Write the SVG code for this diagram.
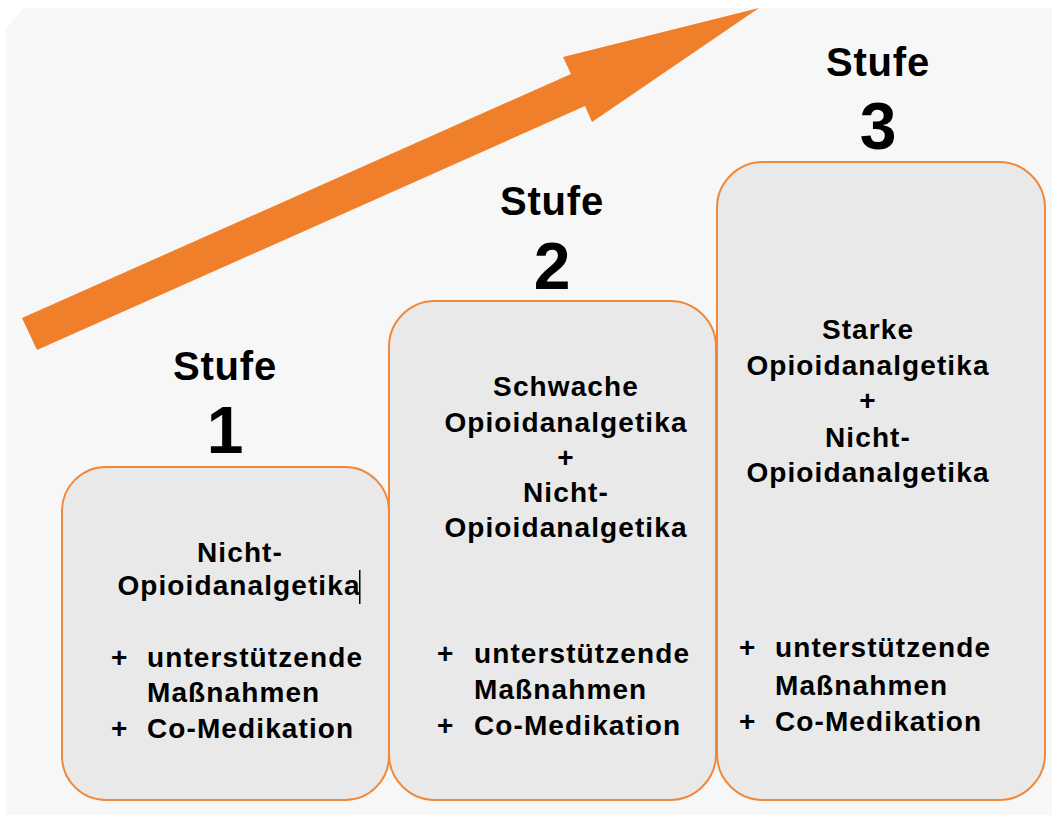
<svg xmlns="http://www.w3.org/2000/svg" width="1056" height="821" viewBox="0 0 1056 821">
<style>
.box{fill:#e9e9e9;stroke:#f0883a;stroke-width:2}
.t{font-family:"Liberation Sans",Arial,sans-serif;font-weight:bold;fill:#000}
.stufe{font-size:40px;text-anchor:middle;letter-spacing:0.8px}
.num{font-size:66px;text-anchor:middle}
.c{font-size:28px;text-anchor:middle;letter-spacing:1.1px}
.l{font-size:28px;letter-spacing:1.1px}
</style>
<rect width="1056" height="821" fill="#ffffff"/>
<path d="M24 8 H1052 V815 H6 V28 Z" fill="#f7f7f7"/>
<g id="arrow">
<polygon points="22,318 571,74 563,57 759,8 592,122 585,106 37,350" fill="#ef7f2a"/>
</g>
<g id="stufe1">
<rect class="box" x="62" y="467" width="327" height="333" rx="44" ry="44"/>
<text class="t stufe" x="225" y="380">Stufe</text>
<text class="t num" x="225" y="453">1</text>
<text class="t c" x="240" y="562">Nicht-</text>
<text class="t c" x="239" y="595">Opioidanalgetika</text>
<rect x="359" y="570" width="1.5" height="34" fill="#000"/>
<text class="t l" x="111" y="667">+</text>
<text class="t l" x="147" y="667">unterstützende</text>
<text class="t l" x="147" y="702">Maßnahmen</text>
<text class="t l" x="111" y="738">+</text>
<text class="t l" x="147" y="738">Co-Medikation</text>
</g>
<g id="stufe2">
<rect class="box" x="389" y="301" width="327" height="499" rx="46" ry="46"/>
<text class="t stufe" x="552" y="215">Stufe</text>
<text class="t num" x="552" y="289">2</text>
<text class="t c" x="566" y="396">Schwache</text>
<text class="t c" x="566" y="432">Opioidanalgetika</text>
<text class="t c" x="566" y="467">+</text>
<text class="t c" x="566" y="502">Nicht-</text>
<text class="t c" x="566" y="537">Opioidanalgetika</text>
<text class="t l" x="437" y="663">+</text>
<text class="t l" x="474" y="663">unterstützende</text>
<text class="t l" x="474" y="699">Maßnahmen</text>
<text class="t l" x="437" y="735">+</text>
<text class="t l" x="474" y="735">Co-Medikation</text>
</g>
<g id="stufe3">
<rect class="box" x="717" y="162" width="328" height="638" rx="46" ry="46"/>
<text class="t stufe" x="878" y="76">Stufe</text>
<text class="t num" x="878" y="149">3</text>
<text class="t c" x="868" y="339">Starke</text>
<text class="t c" x="868" y="375">Opioidanalgetika</text>
<text class="t c" x="868" y="410">+</text>
<text class="t c" x="868" y="447">Nicht-</text>
<text class="t c" x="868" y="482">Opioidanalgetika</text>
<text class="t l" x="739" y="657">+</text>
<text class="t l" x="775" y="657">unterstützende</text>
<text class="t l" x="775" y="695">Maßnahmen</text>
<text class="t l" x="739" y="731">+</text>
<text class="t l" x="775" y="731">Co-Medikation</text>
</g>
<g id="connectors"/>
</svg>
